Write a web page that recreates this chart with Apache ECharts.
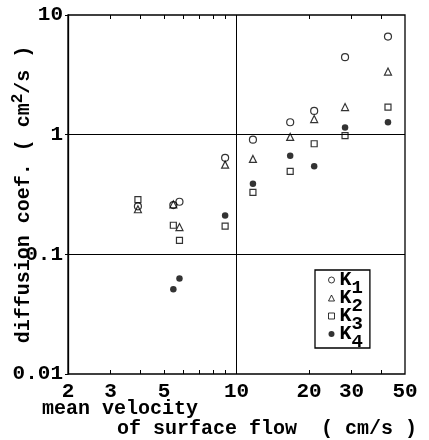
<!DOCTYPE html>
<html style="height: 100%">
<head>
    <meta charset="utf-8">
    <script type="text/javascript" src="https://cdn.jsdelivr.net/npm/echarts@6/dist/echarts.min.js"></script>
</head>
<body style="height: 100%; margin: 0">
<div id="container" style="width: 429px; height: 440px"></div>

<script type="text/javascript">

    // mean velocity of surface flow (cm/s)
    var velocity = [3.9, 5.47, 5.8, 8.97, 11.7, 16.7, 21.0, 28.2, 42.5];
    // diffusion coefficients (cm2/s), null = not measured
    var k1 = [0.252, 0.258, 0.275, 0.640, 0.908, 1.27, 1.58, 4.44, 6.6];
    var k2 = [0.238, 0.262, 0.169, 0.562, 0.627, 0.957, 1.35, 1.70, 3.37];
    var k3 = [0.287, 0.175, 0.131, 0.172, 0.330, 0.494, 0.84, 0.98, 1.70];
    var k4 = [null, 0.051, 0.0627, 0.211, 0.388, 0.668, 0.544, 1.15, 1.27];

    var xLabels = [2, 3, 5, 10, 20, 30, 50];
    var xTicks = [3, 4, 5, 6, 7, 8, 9, 10, 20, 30, 40];
    var gridX = [10];
    var gridY = [0.1, 1];

    var font = 'Liberation Mono';
    var weight = 'bold';

    function pairs(ys) {
        var out = [];
        for (var i = 0; i < velocity.length; i++) {
            if (ys[i] != null) out.push([velocity[i], ys[i]]);
        }
        return out;
    }

    var dom = document.getElementById("container");
    var myChart = echarts.init(dom);

    var tickAxis = function (pos, showLabel) {
        return {
            type: 'value',
            position: pos,
            min: Math.log10(2),
            max: Math.log10(50),
            axisLine: {show: false},
            axisTick: {
                inside: true,
                length: 4,
                customValues: xTicks.map(Math.log10),
                lineStyle: {color: '#000', width: 1}
            },
            axisLabel: {
                show: showLabel,
                customValues: xLabels.map(Math.log10),
                formatter: function (v) {
                    return String(Math.round(Math.pow(10, v)));
                },
                margin: 7,
                color: '#000',
                fontFamily: font,
                fontWeight: weight,
                fontSize: 21
            },
            splitLine: {show: false}
        };
    };

    var hollow = {color: 'transparent', borderColor: '#000', borderWidth: 1.2};

    option = {
        animation: false,
        grid: {
            left: 68, right: 24, top: 15, bottom: 66,
            outerBoundsMode: 'none',
            containLabel: false,
            show: true, borderColor: '#000', borderWidth: 1.3
        },
        legend: {
            orient: 'vertical',
            left: 315,
            top: 270,
            data: [
                {name: 'K1', icon: 'circle'},
                {name: 'K2', icon: 'triangle'},
                {name: 'K3', icon: 'rect'},
                {name: 'K4', icon: 'circle'}
            ],
            itemWidth: 6,
            itemHeight: 6,
            itemGap: -17,
            padding: [-7.5, 7, -3.5, 13],
            borderColor: '#000',
            borderWidth: 1.3,
            itemStyle: {borderWidth: 1},
            formatter: function (name) {
                return '{k|K}{s|' + name.slice(1) + '}';
            },
            textStyle: {
                color: '#000',
                fontFamily: font,
                fontWeight: weight,
                fontSize: 20,
                rich: {
                    k: {fontFamily: font, fontWeight: weight, fontSize: 20, lineHeight: 14, verticalAlign: 'middle'},
                    s: {fontFamily: font, fontWeight: weight, fontSize: 19, lineHeight: 14, verticalAlign: 'middle', padding: [16, 0, 0, 0]}
                }
            }
        },
        xAxis: [
            {
                type: 'log',
                logBase: 10,
                min: 2,
                max: 50,
                position: 'top',
                axisLine: {show: false},
                axisTick: {show: false},
                axisLabel: {show: false},
                splitLine: {show: false}
            },
            tickAxis('bottom', true),
            tickAxis('top', false)
        ],
        yAxis: {
            type: 'log',
            logBase: 10,
            min: 0.01,
            max: 10,
            axisLine: {lineStyle: {color: '#000', width: 1.3}},
            axisTick: {length: 3, lineStyle: {color: '#000'}},
            axisLabel: {
                color: '#000',
                fontFamily: font,
                fontWeight: weight,
                fontSize: 21,
                margin: 5,
                formatter: function (v) {
                    return String(+v.toPrecision(2));
                }
            },
            splitLine: {show: false},
            name: 'diffusion coef. ( cm{sup|2}/s )',
            nameLocation: 'middle',
            nameRotate: 90,
            nameGap: 34,
            nameMoveOverlap: false,
            nameTextStyle: {
                color: '#000',
                fontFamily: font,
                fontWeight: weight,
                fontSize: 20,
                rich: {
                    sup: {fontFamily: font, fontWeight: weight, fontSize: 16, lineHeight: 14, padding: [0, 0, 12, 0]}
                }
            }
        },
        graphic: [
            {type: 'text', x: 42, y: 409, style: {text: 'mean velocity', font: 'bold 20px "Liberation Mono"', fill: '#000', verticalAlign: 'middle'}},
            {type: 'text', x: 117, y: 429, style: {text: 'of surface flow  ( cm/s )', font: 'bold 20px "Liberation Mono"', fill: '#000', verticalAlign: 'middle'}}
        ],
        series: [{
            name: 'K1',
            type: 'scatter',
            symbol: 'circle',
            symbolSize: 7,
            itemStyle: hollow,
            data: pairs(k1),
            markLine: {
                silent: true,
                symbol: ['none', 'none'],
                label: {show: false},
                lineStyle: {color: '#000', type: 'solid', width: 1},
                data: gridX.map(function (v) { return {xAxis: v}; })
                    .concat(gridY.map(function (v) { return {yAxis: v}; }))
            }
        }, {
            name: 'K2',
            type: 'scatter',
            symbol: 'triangle',
            symbolSize: 7,
            itemStyle: hollow,
            data: pairs(k2)
        }, {
            name: 'K3',
            type: 'scatter',
            symbol: 'rect',
            symbolSize: 6,
            itemStyle: hollow,
            data: pairs(k3)
        }, {
            name: 'K4',
            type: 'scatter',
            symbol: 'circle',
            symbolSize: 6.5,
            itemStyle: {color: '#000'},
            data: pairs(k4)
        }]
    };

    myChart.setOption(option);

</script>

</body>
</html>
